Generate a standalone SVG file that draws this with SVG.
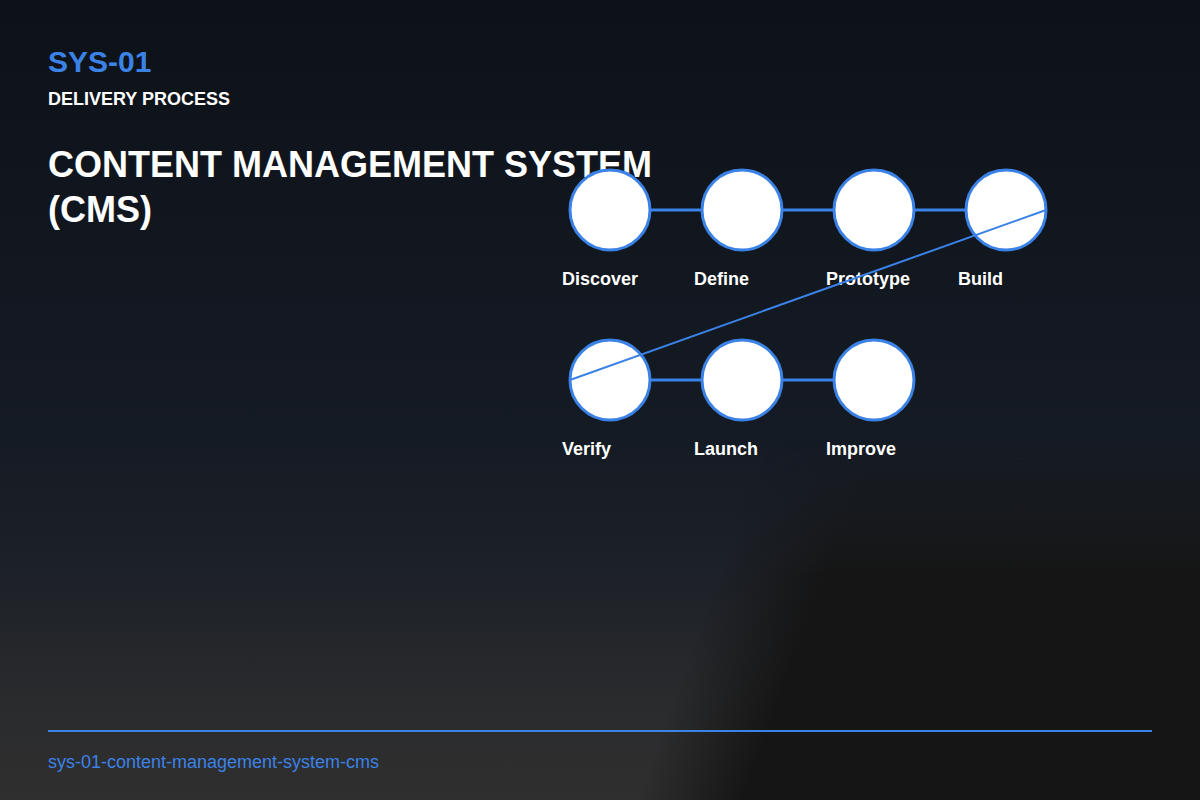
<svg xmlns="http://www.w3.org/2000/svg" width="1200" height="800" viewBox="0 0 1200 800">
<defs>
<linearGradient id="bg" x1="0" y1="0" x2="0" y2="800" gradientUnits="userSpaceOnUse">
<stop offset="0" stop-color="#0d1219"/>
<stop offset="0.55" stop-color="#151b24"/>
<stop offset="0.72" stop-color="#1d2128"/>
<stop offset="0.88" stop-color="#2a2b2d"/>
<stop offset="1" stop-color="#2f2f2f"/>
</linearGradient>
<linearGradient id="dark" x1="700" y1="630" x2="795" y2="665" gradientUnits="userSpaceOnUse">
<stop offset="0" stop-color="#151515" stop-opacity="0"/>
<stop offset="1" stop-color="#151515" stop-opacity="1"/>
</linearGradient>
<linearGradient id="fade" x1="0" y1="440" x2="0" y2="580" gradientUnits="userSpaceOnUse">
<stop offset="0" stop-color="#fff" stop-opacity="0"/>
<stop offset="1" stop-color="#fff" stop-opacity="1"/>
</linearGradient>
<mask id="m" maskUnits="userSpaceOnUse" x="0" y="0" width="1200" height="800"><rect width="1200" height="800" fill="url(#fade)"/></mask>
<style>
.node{fill:#ffffff;stroke:#3b82e6;stroke-width:3}
.lbl{font-family:"Liberation Sans",Arial,sans-serif;font-weight:bold;font-size:18px;fill:#ffffff}
.conn{stroke:#3b82e6;stroke-width:3;fill:none}
.t{font-family:"Liberation Sans",Arial,sans-serif;font-weight:bold}
</style>
</defs>
<rect width="1200" height="800" fill="url(#bg)"/>
<rect width="1200" height="800" fill="url(#dark)" mask="url(#m)"/>

<text class="t" x="48" y="72" font-size="30" fill="#3b82e6">SYS-01</text>
<text class="t" x="48" y="105" font-size="18" fill="#ffffff">DELIVERY PROCESS</text>
<text class="t" font-size="36" fill="#ffffff"><tspan x="48" y="177">CONTENT MANAGEMENT SYSTEM</tspan><tspan x="48" y="222">(CMS)</tspan></text>

<g id="connectors">
<line class="conn" x1="650" y1="210" x2="702" y2="210"/>
<line class="conn" x1="782" y1="210" x2="834" y2="210"/>
<line class="conn" x1="914" y1="210" x2="966" y2="210"/>
<line class="conn" x1="650" y1="380" x2="702" y2="380"/>
<line class="conn" x1="782" y1="380" x2="834" y2="380"/>
</g>

<g id="n-discover"><circle class="node" cx="610" cy="210" r="40"/><text class="lbl" x="562" y="285">Discover</text></g>
<g id="n-define"><circle class="node" cx="742" cy="210" r="40"/><text class="lbl" x="694" y="285">Define</text></g>
<g id="n-prototype"><circle class="node" cx="874" cy="210" r="40"/><text class="lbl" x="826" y="285">Prototype</text></g>
<g id="n-build"><circle class="node" cx="1006" cy="210" r="40"/><text class="lbl" x="958" y="285">Build</text></g>
<g id="n-verify"><circle class="node" cx="610" cy="380" r="40"/><text class="lbl" x="562" y="455">Verify</text></g>
<g id="n-launch"><circle class="node" cx="742" cy="380" r="40"/><text class="lbl" x="694" y="455">Launch</text></g>
<g id="n-improve"><circle class="node" cx="874" cy="380" r="40"/><text class="lbl" x="826" y="455">Improve</text></g>

<g id="connector-wrap"><line x1="1046" y1="210" x2="570" y2="380" stroke="#3b82e6" stroke-width="2"/></g>

<line x1="48" y1="731" x2="1152" y2="731" stroke="#3b82e6" stroke-width="2"/>
<text x="48" y="768" font-family="Liberation Sans,Arial,sans-serif" font-size="18" fill="#3b82e6">sys-01-content-management-system-cms</text>
</svg>
